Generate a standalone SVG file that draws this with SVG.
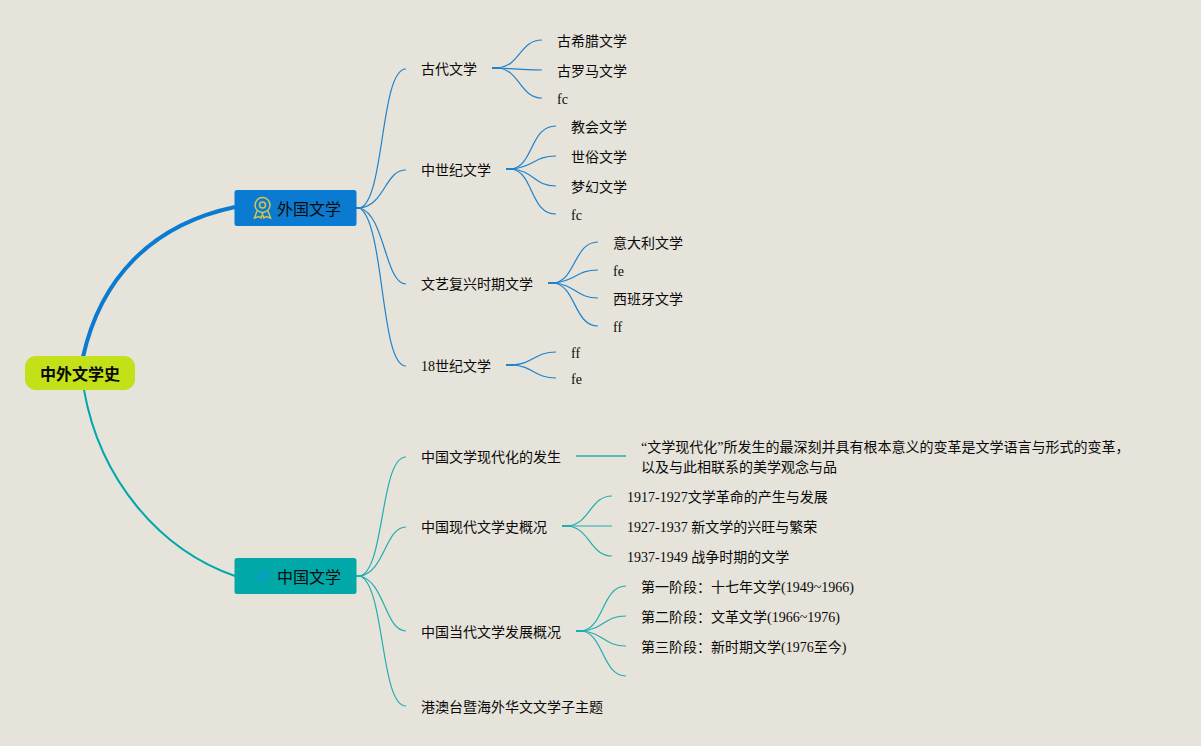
<svg xmlns="http://www.w3.org/2000/svg" width="1201" height="746" viewBox="0 0 1201 746">
<style>
text{font-family:"Liberation Serif","Noto Sans CJK SC",serif;font-size:14px;fill:#0a0a0a;dominant-baseline:central}
.b{fill:none;stroke:#1f82cc;stroke-width:1.200}
.t{fill:none;stroke:#22adb0;stroke-width:1.200}
.bb{fill:none;stroke:#1f82cc;stroke-width:2}
.tb{fill:none;stroke:#22adb0;stroke-width:2}
.h{font-size:16px;fill:#0a0a0a}
</style>
<rect width="1201" height="746" fill="#e6e3da"/>
<g id="connectors">
<path d="M83 357C100 280 150 225 235 207" fill="none" stroke="#0a7bd0" stroke-width="4"/>
<path d="M84 390C100 480 160 550 235 576" fill="none" stroke="#00a8ac" stroke-width="2"/>
<path class="bb" d="M356 208H362"/>
<path class="b" d="M360 208C385 200 380 69 406 69"/>
<path class="b" d="M360 208C385 205 385 170 406 170"/>
<path class="b" d="M360 208C385 215 385 284 406 284"/>
<path class="b" d="M360 208C385 225 380 366 406 366"/>
<path class="bb" d="M492 68H500"/>
<path class="b" d="M498 68C520 66 520 40 542 40"/>
<path class="b" d="M498 68C515 69 525 70 542 70"/>
<path class="b" d="M498 68C520 70 520 98 542 98"/>
<path class="bb" d="M506 169H514"/>
<path class="b" d="M512 169C534 165 530 126 556 126"/>
<path class="b" d="M512 169C534 167 534 156 556 156"/>
<path class="b" d="M512 169C534 171 534 186 556 186"/>
<path class="b" d="M512 169C534 173 530 214 556 214"/>
<path class="bb" d="M548 283H556"/>
<path class="b" d="M554 283C576 280 574 242 598 242"/>
<path class="b" d="M554 283C576 281 576 270 598 270"/>
<path class="b" d="M554 283C576 285 576 298 598 298"/>
<path class="b" d="M554 283C576 286 574 326 598 326"/>
<path class="bb" d="M506 365H514"/>
<path class="b" d="M512 365C534 364 534 352 556 352"/>
<path class="b" d="M512 365C534 366 534 378 556 378"/>
<path class="tb" d="M356 576H362"/>
<path class="t" d="M360 576C385 570 380 457 406 457"/>
<path class="t" d="M360 576C385 572 385 527 406 527"/>
<path class="t" d="M360 576C385 582 385 631 406 631"/>
<path class="t" d="M360 576C385 585 380 706 406 706"/>
<path class="t" style="stroke-width:1.500" d="M576 456H626"/>
<path class="tb" d="M562 526H570"/>
<path class="t" d="M568 526C590 524 590 496 612 496"/>
<path class="t" d="M568 526H612"/>
<path class="t" d="M568 526C590 528 590 556 612 556"/>
<path class="tb" d="M576 631H584"/>
<path class="t" d="M582 631C604 628 602 586 626 586"/>
<path class="t" d="M582 631C604 629 604 616 626 616"/>
<path class="t" d="M582 631C604 633 604 646 626 646"/>
<path class="t" d="M582 631C604 634 602 676 626 676"/>
</g>
<g id="root"><rect x="25" y="356" width="110" height="34" rx="11" fill="#c3e019"/><text x="40" y="374" class="h" style="font-weight:700">中外文学史</text></g>
<g id="foreign"><rect x="234.500" y="190" width="122" height="36" rx="2.500" fill="#0a7bd0"/>
<g fill="none" stroke="#d8c34a" stroke-width="1.500"><circle cx="262.500" cy="205" r="7.500"/><circle cx="262.500" cy="205" r="3"/><path d="M257 211L254.500 218L259 216.500L261 218L263 213M268 211L270.500 218L266 216.500L264 218L262 213"/></g>
<text x="277" y="209" class="h">外国文学</text></g>
<g id="chinese"><rect x="234.500" y="558" width="122" height="36" rx="2.500" fill="#00a8a8"/>
<path d="M271 569L254 577L261 579L262 584ZM261 579L271 569L266 582Z" fill="#0d9ec4"/>
<text x="277" y="577" class="h">中国文学</text></g>
<g id="n1"><text x="421" y="69">古代文学</text></g>
<g id="n2"><text x="557" y="41">古希腊文学</text></g>
<g id="n3"><text x="557" y="71">古罗马文学</text></g>
<g id="n4"><text x="557" y="99">fc</text></g>
<g id="n5"><text x="421" y="170">中世纪文学</text></g>
<g id="n6"><text x="571" y="127">教会文学</text></g>
<g id="n7"><text x="571" y="157">世俗文学</text></g>
<g id="n8"><text x="571" y="187">梦幻文学</text></g>
<g id="n9"><text x="571" y="215">fc</text></g>
<g id="n10"><text x="421" y="284">文艺复兴时期文学</text></g>
<g id="n11"><text x="613" y="243">意大利文学</text></g>
<g id="n12"><text x="613" y="271">fe</text></g>
<g id="n13"><text x="613" y="299">西班牙文学</text></g>
<g id="n14"><text x="613" y="327">ff</text></g>
<g id="n15"><text x="421" y="366">18世纪文学</text></g>
<g id="n16"><text x="571" y="353">ff</text></g>
<g id="n17"><text x="571" y="379">fe</text></g>
<g id="n18"><text x="421" y="457">中国文学现代化的发生</text></g>
<g id="n19"><text x="641" y="447">“文学现代化”所发生的最深刻并具有根本意义的变革是文学语言与形式的变革，</text><text x="641" y="467">以及与此相联系的美学观念与品</text></g>
<g id="n20"><text x="421" y="527">中国现代文学史概况</text></g>
<g id="n21"><text x="627" y="497">1917-1927文学革命的产生与发展</text></g>
<g id="n22"><text x="627" y="527">1927-1937 新文学的兴旺与繁荣</text></g>
<g id="n23"><text x="627" y="557">1937-1949 战争时期的文学</text></g>
<g id="n24"><text x="421" y="632">中国当代文学发展概况</text></g>
<g id="n25"><text x="641" y="587">第一阶段：十七年文学(1949~1966)</text></g>
<g id="n26"><text x="641" y="617">第二阶段：文革文学(1966~1976)</text></g>
<g id="n27"><text x="641" y="647">第三阶段：新时期文学(1976至今)</text></g>
<g id="n28"><text x="421" y="707">港澳台暨海外华文文学子主题</text></g>
</svg>
